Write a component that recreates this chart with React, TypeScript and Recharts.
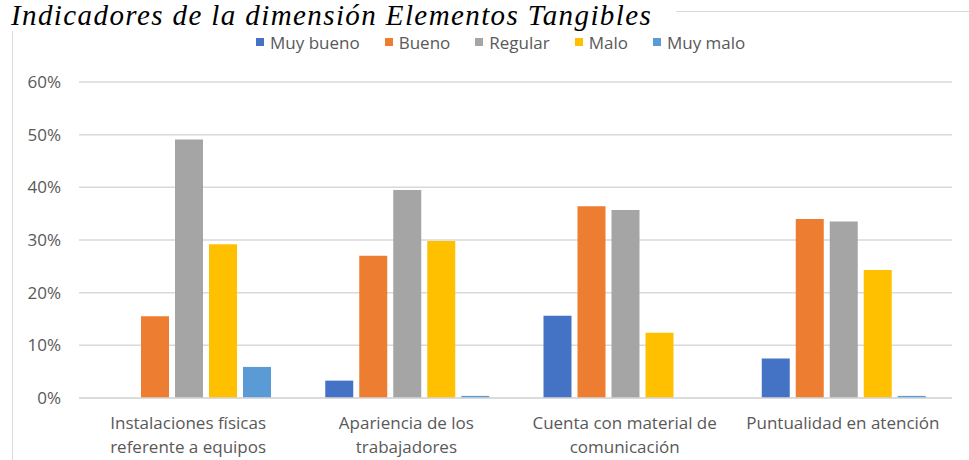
import React from "react";
import { Bar, BarChart, CartesianGrid, XAxis, YAxis } from "recharts";

const categories = [
  "Instalaciones físicas referente a equipos",
  "Apariencia de los trabajadores",
  "Cuenta con material de comunicación",
  "Puntualidad en atención",
];

// how each category name breaks under the axis
const categoryLines = [
  ["Instalaciones físicas", "referente a equipos"],
  ["Apariencia de los", "trabajadores"],
  ["Cuenta con material de", "comunicación"],
  ["Puntualidad en atención"],
];

const muyBueno = [0, 3.3, 15.6, 7.5];
const bueno = [15.5, 27.0, 36.4, 34.0];
const regular = [49.1, 39.5, 35.7, 33.5];
const malo = [29.2, 29.8, 12.4, 24.3];
const muyMalo = [5.9, 0.4, 0, 0.4];

const yTicks = [0, 10, 20, 30, 40, 50, 60];

const series = [
  { key: "muyBueno", name: "Muy bueno", color: "#4472C4" },
  { key: "bueno", name: "Bueno", color: "#ED7D31" },
  { key: "regular", name: "Regular", color: "#A5A5A5" },
  { key: "malo", name: "Malo", color: "#FFC000" },
  { key: "muyMalo", name: "Muy malo", color: "#5B9BD5" },
];

const data = categories.map((name, i) => ({
  name,
  muyBueno: muyBueno[i],
  bueno: bueno[i],
  regular: regular[i],
  malo: malo[i],
  muyMalo: muyMalo[i],
}));

const FONT = "'Open Sans', sans-serif";
const TEXT = "#595959";

function CategoryTick(props: any) {
  const { x, y, payload } = props;
  const lines = categoryLines[payload.index] ?? [payload.value];
  return (
    <g>
      {lines.map((line: string, i: number) => (
        <text
          key={i}
          x={x}
          y={y + 23 + i * 24}
          textAnchor="middle"
          fill={TEXT}
          fontSize={17}
          fontFamily={FONT}
        >
          {line}
        </text>
      ))}
    </g>
  );
}

function SeriesLegend() {
  return (
    <div
      style={{
        position: "absolute",
        left: 256,
        top: 30,
        height: 24,
        display: "flex",
        alignItems: "center",
        gap: 25,
        fontFamily: FONT,
        fontSize: 17,
        color: TEXT,
        whiteSpace: "nowrap",
      }}
    >
      {series.map((s) => (
        <div key={s.key} style={{ display: "flex", alignItems: "center" }}>
          <span style={{ width: 8, height: 8, background: s.color, marginRight: 6 }} />
          <span>{s.name}</span>
        </div>
      ))}
    </div>
  );
}

export default function App() {
  return (
    <div
      style={{
        position: "absolute",
        left: 0,
        top: 0,
        width: 969,
        height: 460,
        background: "#fff",
        overflow: "hidden",
      }}
    >
      <div
        style={{
          position: "absolute",
          left: 12,
          top: 11,
          width: 1000,
          height: 500,
          border: "1.5px solid #d9d9d9",
        }}
      />
      <div style={{ position: "absolute", left: 0, top: 0 }}>
        <BarChart
          width={969}
          height={460}
          data={data}
          margin={{ top: 82, right: 17, bottom: 0, left: 0 }}
          barCategoryGap={28}
          barGap={6}
        >
          <CartesianGrid vertical={false} stroke="#d9d9d9" strokeWidth={1.5} />
          <XAxis
            dataKey="name"
            axisLine={{ stroke: "#d9d9d9", strokeWidth: 1.5 }}
            tickLine={false}
            interval={0}
            tick={<CategoryTick />}
            height={62}
          />
          <YAxis
            width={79}
            domain={[0, 60]}
            ticks={yTicks}
            axisLine={false}
            tickLine={false}
            tickSize={0}
            tickMargin={18}
            tickFormatter={(v) => `${v}%`}
            tick={{ fill: TEXT, fontSize: 17, fontFamily: FONT }}
          />
          {series.map((s) => (
            <Bar
              key={s.key}
              dataKey={s.key}
              name={s.name}
              fill={s.color}
              isAnimationActive={false}
            />
          ))}
        </BarChart>
      </div>
      <SeriesLegend />
      <div
        style={{
          position: "absolute",
          left: 0,
          top: 0,
          height: 31,
          paddingLeft: 11,
          paddingRight: 24,
          background: "#fff",
          fontFamily: "'Liberation Serif', 'Times New Roman', serif",
          fontStyle: "italic",
          fontSize: 29,
          letterSpacing: 1.4,
          lineHeight: "31px",
          color: "#000",
          whiteSpace: "nowrap",
        }}
      >
        Indicadores de la dimensión Elementos Tangibles
      </div>
    </div>
  );
}
